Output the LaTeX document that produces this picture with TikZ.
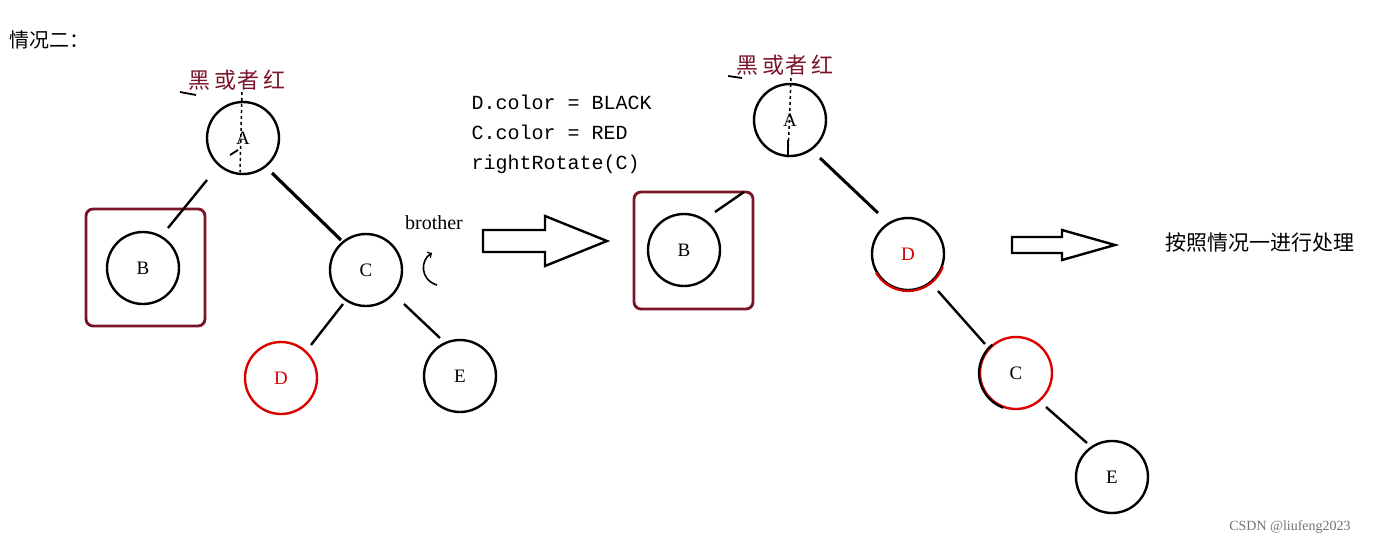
\documentclass[tikz,border=0pt]{standalone}
\usepackage{fontspec}
\setmainfont{Liberation Serif}
\setmonofont{Liberation Mono}
\newfontfamily\cjk{Noto Sans CJK SC}
\begin{document}
\begin{tikzpicture}[x=1pt,y=-1pt,
  nd/.style={circle,draw=black,line width=2.4pt,minimum size=72pt,inner sep=0pt,font=\fontsize{19}{19}\selectfont},
  rd/.style={nd,draw=red!85!black,text=red!85!black},
  ed/.style={line width=2.4pt},
  lab/.style={font=\cjk\fontsize{22}{22}\selectfont},
  bigarrow/.style={draw,line width=2.4pt,fill=white}]
\definecolor{dred}{HTML}{7A1428}
\useasboundingbox (0,0) rectangle (1382,546);
\node[anchor=west,font=\cjk\fontsize{20}{20}\selectfont] (t) at (6,40) {情况二：};
% left tree
\draw[draw=dred,line width=2.8pt,rounded corners=7pt] (86,209) rectangle (205,326);
\node[nd] (A) at (243,138) {A};
\node[nd] (B) at (143,268) {B};
\node[nd] (C) at (366,270) {C};
\node[rd] (D) at (281,378) {D};
\node[nd] (E) at (460,376) {E};
\draw[ed] (207,180) -- (168,228);
\draw[line width=3.2pt] (272,173) -- (341,240);
\draw[ed] (343,304) -- (311,345);
\draw[ed] (404,304) -- (440,338);
\node[lab,text=dred] (l1) at (237,80) {黑 或者 红};
\draw[dashed,line width=1.5pt] (242,92) -- (240,172);
\draw[line width=1.8pt] (180,92) -- (196,95) (230,155)--(238,150);
\node[anchor=west,font=\ttfamily\fontsize{20}{20}\selectfont,align=left] (code) at (468,134)
 {D.color = BLACK\\[10pt]C.color = RED\\[10pt]rightRotate(C)};
\node[font=\fontsize{20}{20}\selectfont] (bro) at (434,223) {brother};
\draw[line width=1.6pt,->] (437,285) .. controls (420,280) and (420,260) .. (432,253);
\draw[bigarrow] (483,230) -- (545,230) -- (545,216) -- (607,241) -- (545,266) -- (545,252) -- (483,252) -- cycle;
% right tree
\draw[draw=dred,line width=2.8pt,rounded corners=7pt] (634,192) rectangle (753,309);
\node[nd] (A2) at (790,120) {A};
\node[nd] (B2) at (684,250) {B};
\node[nd,text=red!85!black] (D2) at (908,254) {D};
\draw[red!85!black,line width=2.2pt] (908,254) ++(20:37) arc (20:150:37);
\node[nd,draw=red!85!black] (C2) at (1016,373) {C};
\draw[line width=2.2pt] (1016,373) ++(110:37) arc (110:230:37);
\node[nd] (E2) at (1112,477) {E};
\draw[ed] (744,192) -- (715,212);
\draw[line width=3pt] (820,158) -- (878,213);
\draw[ed] (938,291) -- (985,344);
\draw[ed] (1046,407) -- (1087,443);
\node[lab,text=dred] (l2) at (785,65) {黑 或者 红};
\draw[dashed,line width=1.5pt] (791,78) -- (788,157);
\draw[line width=1.8pt] (728,76) -- (742,78) (788,157)--(788,140);
\draw[bigarrow] (1012,237) -- (1062,237) -- (1062,230) -- (1115,245) -- (1062,260) -- (1062,253) -- (1012,253) -- cycle;
\node[font=\cjk\fontsize{21}{21}\selectfont] (txt) at (1260,243) {按照情况一进行处理};
\node[font=\fontsize{14}{14}\selectfont,text=black!55] (wm) at (1290,527) {CSDN @liufeng2023};
\end{tikzpicture}
\end{document}
